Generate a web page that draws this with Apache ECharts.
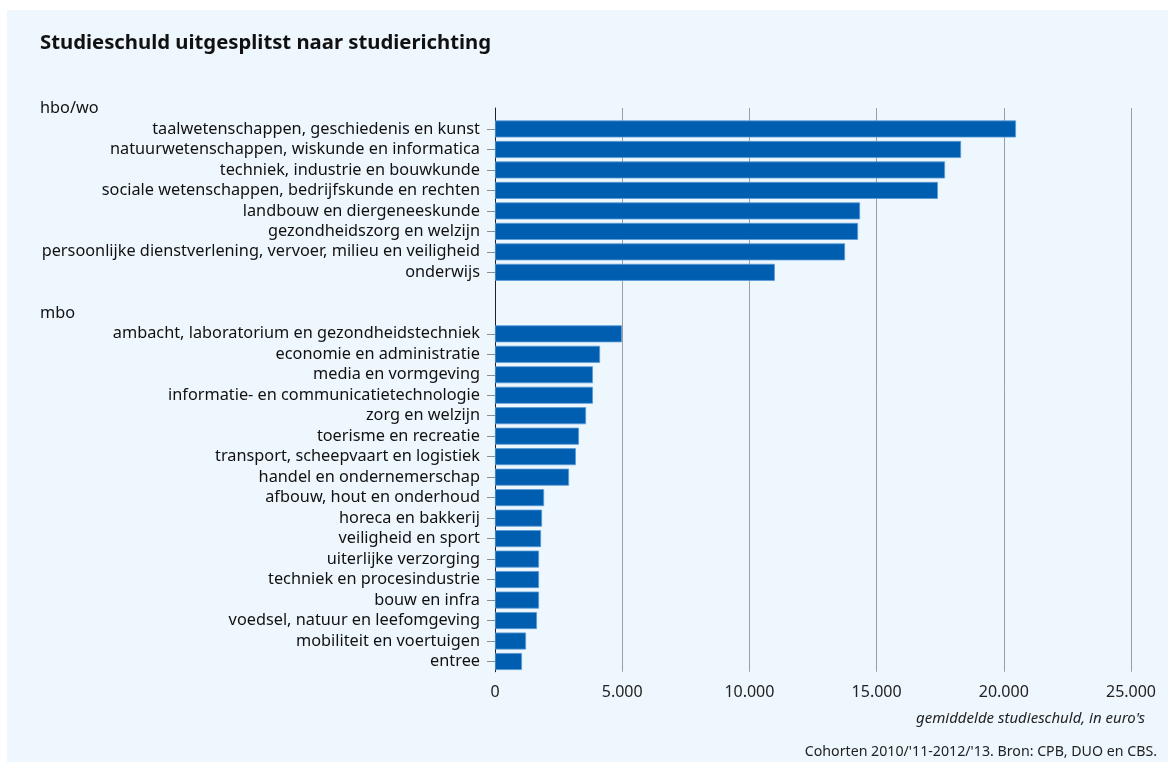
<!DOCTYPE html>
<html><head><meta charset="utf-8">
<script src="https://cdn.jsdelivr.net/npm/echarts@6/dist/echarts.min.js"></script>
<style>html,body{margin:0;padding:0;background:#fff}#c{width:1168px;height:762px}</style>
</head><body><div id="c"></div>
<script>
const hboCategories = [
  'taalwetenschappen, geschiedenis en kunst',
  'natuurwetenschappen, wiskunde en informatica',
  'techniek, industrie en bouwkunde',
  'sociale wetenschappen, bedrijfskunde en rechten',
  'landbouw en diergeneeskunde',
  'gezondheidszorg en welzijn',
  'persoonlijke dienstverlening, vervoer, milieu en veiligheid',
  'onderwijs'
];
const hboValues = [20480, 18320, 17690, 17410, 14350, 14270, 13760, 11000];
const mboCategories = [
  'ambacht, laboratorium en gezondheidstechniek',
  'economie en administratie',
  'media en vormgeving',
  'informatie- en communicatietechnologie',
  'zorg en welzijn',
  'toerisme en recreatie',
  'transport, scheepvaart en logistiek',
  'handel en ondernemerschap',
  'afbouw, hout en onderhoud',
  'horeca en bakkerij',
  'veiligheid en sport',
  'uiterlijke verzorging',
  'techniek en procesindustrie',
  'bouw en infra',
  'voedsel, natuur en leefomgeving',
  'mobiliteit en voertuigen',
  'entree'
];
const mboValues = [4990, 4130, 3850, 3850, 3580, 3300, 3180, 2910, 1930, 1850, 1810, 1730, 1730, 1730, 1650, 1220, 1060];
const groupLabels = ['hbo/wo', 'mbo'];
const xTicks = [0, 5000, 10000, 15000, 20000, 25000];

const headerSet = new Set(groupLabels);
const cats = [groupLabels[0], ...hboCategories, '', groupLabels[1], ...mboCategories];
const vals = [null, ...hboValues, null, null, ...mboValues];
const FONT = 'Noto Sans';

const chart = echarts.init(document.getElementById('c'), null, {renderer: 'canvas'});
const fmt = v => String(v).replace(/\B(?=(\d{3})+(?!\d))/g, '.');
chart.setOption({
  backgroundColor: '#ffffff',
  animation: false,
  textStyle: {fontFamily: FONT},
  graphic: [
    {type: 'rect', left: 7, top: 10, shape: {width: 1161, height: 752}, style: {fill: '#eef7fe'}, z: -10, silent: true},
    {type: 'text', left: 40, top: 33, style: {text: 'Studieschuld uitgesplitst naar studierichting', font: 'bold 20.3px "' + FONT + '"', fill: '#111'}},
    {type: 'text', right: 11, top: 745, style: {text: "Cohorten 2010/'11-2012/'13. Bron: CPB, DUO en CBS.", font: '14.2px "' + FONT + '"', fill: '#222'}}
  ],
  grid: [
    {left: 495, right: 37, top: 98.25, bottom: 90.25},
    {left: 495, right: 37, top: 108, bottom: 90.25}
  ],
  xAxis: [
    {type: 'value', gridIndex: 0, min: 0, max: 25000, interval: 5000,
     axisLine: {show: false}, axisTick: {show: false}, splitLine: {show: false},
     axisLabel: {show: true, formatter: v => fmt(v), color: '#222', fontSize: 16, margin: 13},
     name: "gemiddelde studieschuld, in euro's", nameLocation: 'end',
     nameTextStyle: {fontStyle: 'italic', fontSize: 15, color: '#222', align: 'right', verticalAlign: 'top', padding: [39, 0, 0, 0]},
     nameGap: 14},
    {type: 'value', gridIndex: 1, min: 0, max: 25000, interval: 5000,
     axisLine: {show: false}, axisTick: {show: false}, axisLabel: {show: false},
     splitLine: {show: true, lineStyle: {color: '#9a9fa3', width: 1}}}
  ],
  yAxis: [
    {type: 'category', gridIndex: 0, inverse: true, data: cats,
     axisLine: {show: false},
     axisTick: {show: true, alignWithLabel: true, length: 8, lineStyle: {color: '#8a8f93'},
       interval: (i, v) => v !== '' && !headerSet.has(v)},
     axisLabel: {interval: 0, color: '#111', fontSize: 16.3, margin: 15,
       formatter: v => headerSet.has(v) ? '{h|' + v + '}' : v,
       rich: {h: {width: 440, align: 'left', fontSize: 16.3, color: '#111'}}}},
    {type: 'category', gridIndex: 1, data: [],
     axisLine: {show: true, lineStyle: {color: '#222', width: 1}}, axisTick: {show: false}, axisLabel: {show: false}}
  ],
  series: [{
    type: 'bar', xAxisIndex: 0, yAxisIndex: 0, data: vals,
    barWidth: 17,
    itemStyle: {color: '#005eb0', borderColor: '#5b9ad6', borderWidth: 0.8},
    z: 3
  }]
});
</script></body></html>
